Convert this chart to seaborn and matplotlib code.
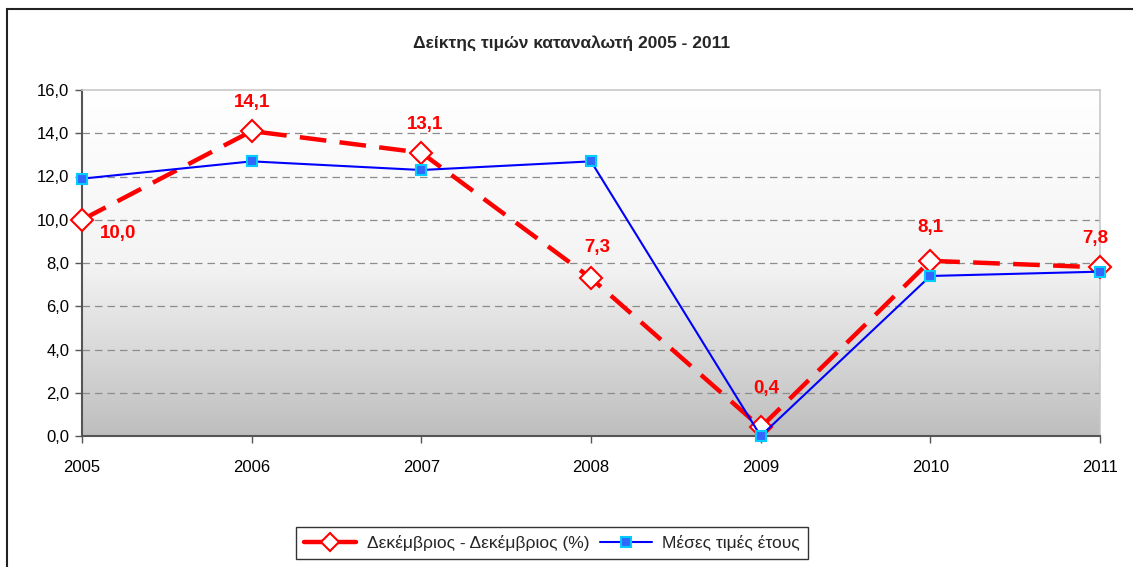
import numpy as np
import pandas as pd
import matplotlib
matplotlib.use("Agg")
import matplotlib.pyplot as plt
import seaborn as sns
from matplotlib.ticker import FuncFormatter
from matplotlib.patches import Rectangle
from matplotlib.colors import LinearSegmentedColormap

years = [2005, 2006, 2007, 2008, 2009, 2010, 2011]
dec_dec = [10.0, 14.1, 13.1, 7.3, 0.4, 8.1, 7.8]
avg_year = [11.9, 12.7, 12.3, 12.7, 0.0, 7.4, 7.6]
label_dec = "Δεκέμβριος - Δεκέμβριος (%)"
label_avg = "Μέσες τιμές έτους"
title = "Δείκτης τιμών καταναλωτή 2005 - 2011"

df = pd.DataFrame({"year": years, "dec": dec_dec, "avg": avg_year})

sns.set_theme(style="white")
plt.rcParams['font.family'] = ['Liberation Sans', 'DejaVu Sans']

fig = plt.figure(figsize=(11.33, 5.67), dpi=100)
ax = fig.add_axes([82/1133, 1-436/567, (1100-82)/1133, (436-90)/567])

# gradient background: white at top, grey at bottom
grad = np.linspace(0, 1, 256).reshape(-1, 1)
cmap = LinearSegmentedColormap.from_list("g", ["#ffffff", "#f4f4f4", "#bebebe"])
ax.imshow(grad, aspect="auto", cmap=cmap, extent=[2005, 2011, 0, 16],
          origin="upper", zorder=0, interpolation="bicubic")

sns.lineplot(data=df, x="year", y="dec", ax=ax, color="#ff0000", linewidth=3.2,
             marker="D", markersize=11, markerfacecolor="white",
             markeredgecolor="#ff0000", markeredgewidth=1.5,
             label=label_dec, zorder=4, clip_on=False)
ax.lines[-1].set_dashes((6, 3))
sns.lineplot(data=df, x="year", y="avg", ax=ax, color="#0000ff", linewidth=1.5,
             marker="s", markersize=7, markerfacecolor="#3366ff",
             markeredgecolor="#00ccff", markeredgewidth=1.5,
             label=label_avg, zorder=5, clip_on=False)

offsets = [(36, -14), (0, 29), (4, 28), (6, 31), (6, 39), (0, 33), (-5, 29)]
for x, y, off in zip(years, dec_dec, offsets):
    ax.annotate(f"{y:.1f}".replace(".", ","), (x, y), xytext=off,
                textcoords="offset pixels", ha="center", va="center",
                color="#ff0000", fontsize=13.5, fontweight="bold", zorder=6)

ax.set_xlim(2005, 2011)
ax.set_ylim(0, 16)
ax.set_xticks(years)
ax.set_xticklabels([str(y) for y in years])
ax.set_yticks(np.arange(0, 17, 2))
ax.yaxis.set_major_formatter(FuncFormatter(lambda v, p: f"{v:.1f}".replace(".", ",")))
ax.tick_params(axis="both", which="major", direction="out", length=5, width=1,
               color="#555555", labelsize=12, labelcolor="black", left=True, bottom=True)
ax.tick_params(axis="x", pad=12)
ax.tick_params(axis="y", pad=4)
for yv in range(2, 16, 2):
    ax.axhline(yv, color="#8c8c8c", linestyle=(0, (6, 4)), linewidth=0.9, zorder=1)
ax.set_xlabel("")
ax.set_ylabel("")
for s in ["left", "bottom"]:
    ax.spines[s].set_color("#555555")
    ax.spines[s].set_linewidth(1.5)
for s in ["top", "right"]:
    ax.spines[s].set_color("#c8c8c8")
    ax.spines[s].set_linewidth(1.2)

fig.text(572/1133, 1-43/567, title, ha="center", va="center",
         fontsize=12.5, fontweight="bold")

ax.get_legend().remove()
leg = fig.legend(*ax.get_legend_handles_labels(), loc="center",
                 bbox_to_anchor=(552/1133, 1-543/567), ncol=2, frameon=True,
                 fontsize=12.5, handlelength=3.0, columnspacing=0.6,
                 handletextpad=0.6, borderpad=0.45, fancybox=False)
leg.get_frame().set_edgecolor("black")
leg.get_frame().set_linewidth(1.0)
h0 = leg.legend_handles[0]
h0.set_linestyle("-")
h0.set_markersize(9)

fig.patches.append(Rectangle((7/1133, -0.05), 1.1, 1-9/567+0.05,
                             transform=fig.transFigure, fill=False,
                             edgecolor="#222222", linewidth=1.5))

fig.savefig("out.png", dpi=100)
